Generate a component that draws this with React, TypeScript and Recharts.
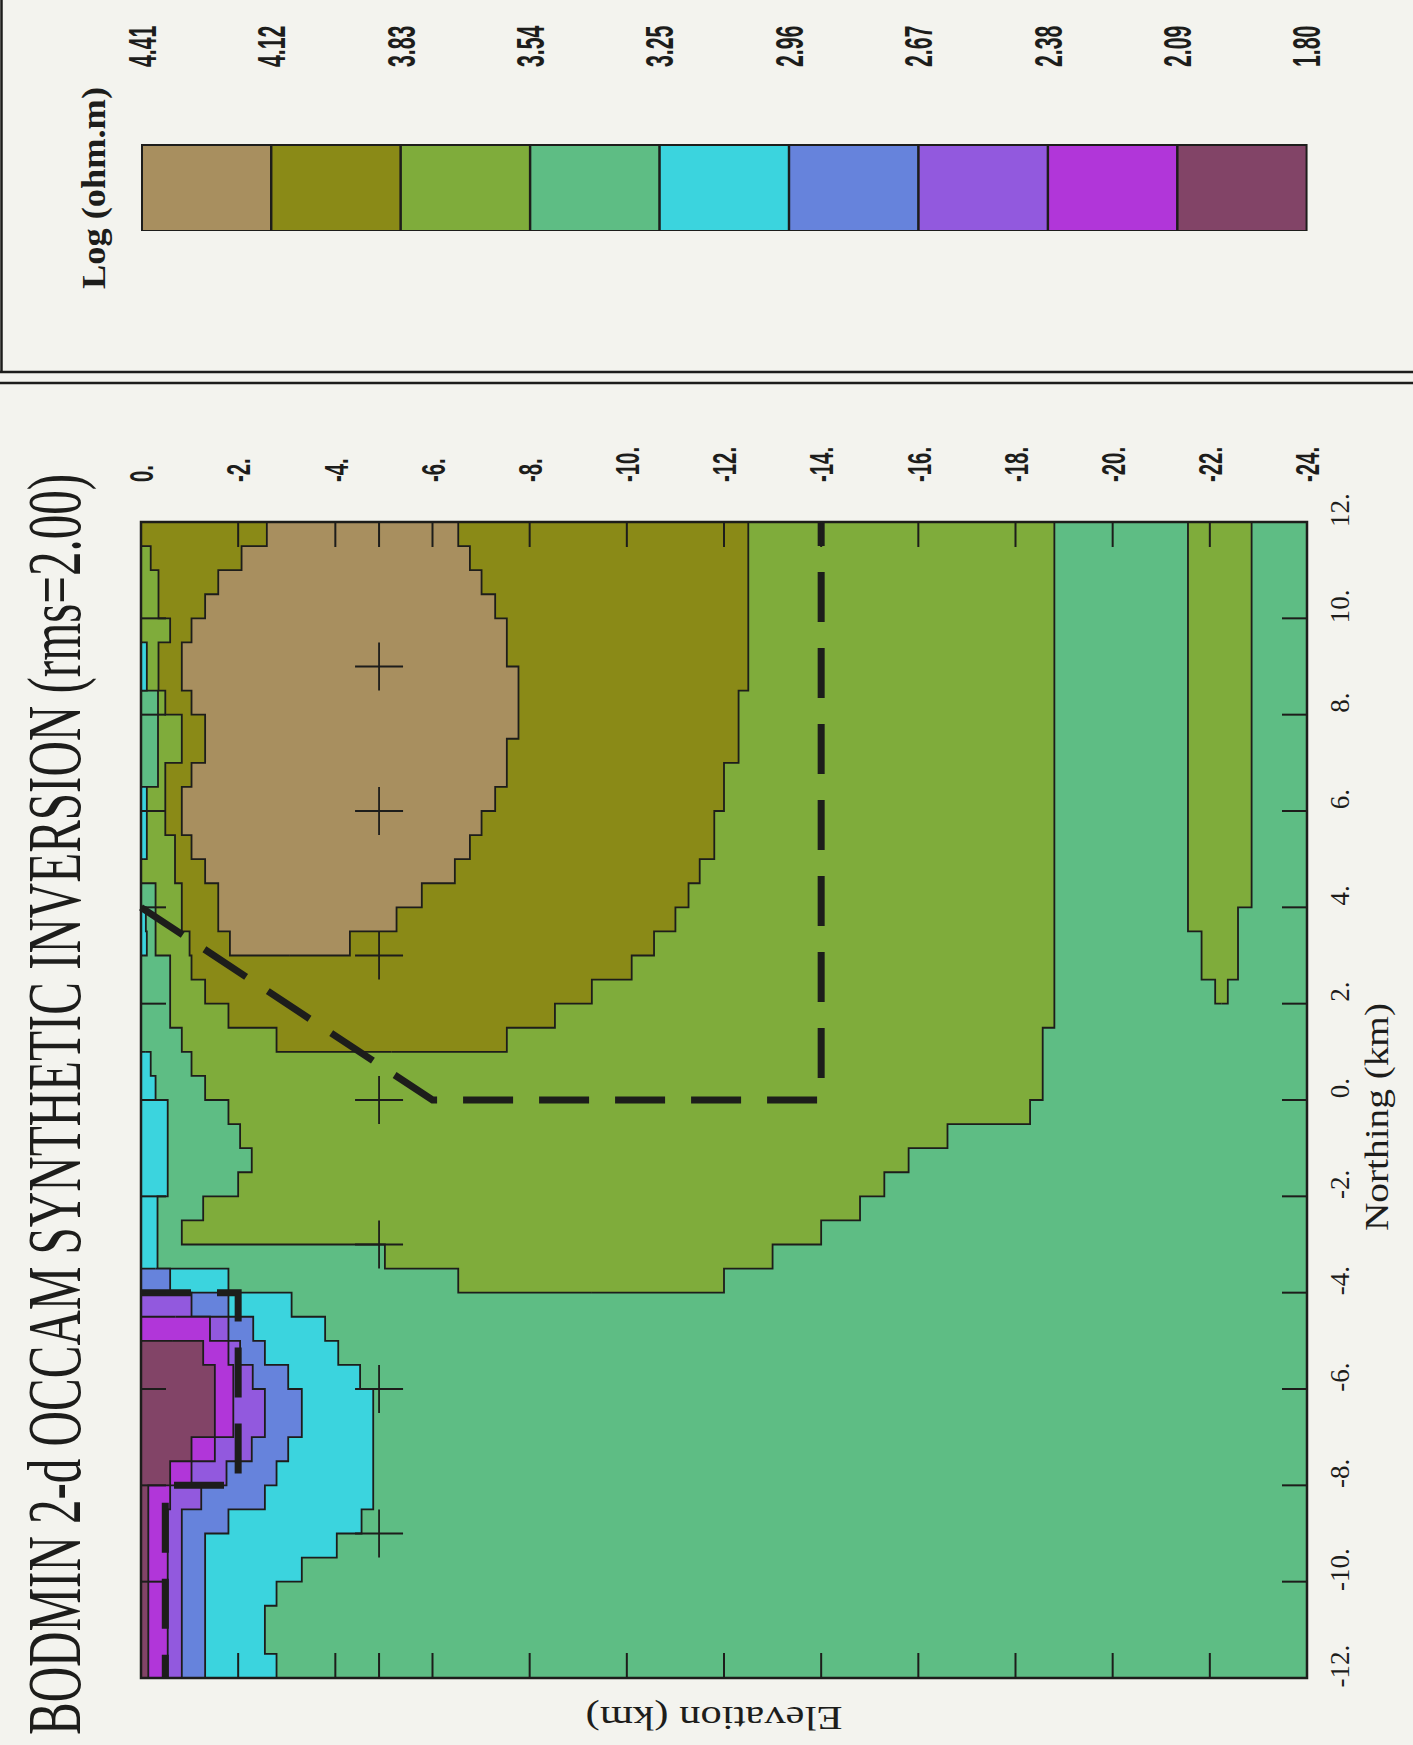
import React from "react";
import {
  ComposedChart,
  Area,
  Line,
  Scatter,
  XAxis,
  YAxis,
  BarChart,
  Bar,
  Cell,
  LabelList,
} from "recharts";

const INK = "#1d1d1b";
const PAPER = "#f3f3ee";

// colour scale, log10 resistivity (ohm.m), top of the bar first
const scaleEdges = [4.41, 4.12, 3.83, 3.54, 3.25, 2.96, 2.67, 2.38, 2.09, 1.8];
const scaleColors = ["#a88f5f", "#8a8a17", "#7fac3b", "#5ebd84", "#3bd4de", "#6683dc", "#9259de", "#b136d9", "#824467"];

// the section is read in 0.5 km columns of northing, starting at -12 km
const firstNorthing = -12;
const columnWidth = 0.5;

// region tops and bases in km below surface, one value per column from `...From`
const yellowGreenFrom = 16;
const yellowGreenTop = [6.53, 5.02, 0.84, 1.28, 2.0, 2.28, 2.04, 1.8, 1.32, 1.04, 0.84, 0.6, 0.6, 0.6, 0.3, 0.3, 0.3, 0, 0, 0, 0, 0.35, 0.35, 0.35, 0.35, 0, 0, 0, 0, 0, 0, 0];
const yellowGreenBase = [12.0, 13.0, 14.0, 14.8, 15.3, 15.8, 16.6, 18.3, 18.56, 18.56, 18.56, 18.8, 18.8, 18.8, 18.8, 18.8, 18.8, 18.8, 18.8, 18.8, 18.8, 18.8, 18.8, 18.8, 18.8, 18.8, 18.8, 18.8, 18.8, 18.8, 18.8, 18.8];

const deepBandFrom = 28;
const deepBandTop = [22.11, 21.83, 21.83, 21.55, 21.55, 21.55, 21.55, 21.55, 21.55, 21.55, 21.55, 21.55, 21.55, 21.55, 21.55, 21.55, 21.55, 21.55, 21.55, 21.55];
const deepBandBase = [22.37, 22.58, 22.58, 22.58, 22.86, 22.86, 22.86, 22.86, 22.86, 22.86, 22.86, 22.86, 22.86, 22.86, 22.86, 22.86, 22.86, 22.86, 22.86, 22.86];

const oliveFrom = 26;
const oliveTop = [2.79, 1.8, 1.32, 1.04, 1.0, 0.84, 0.84, 0.7, 0.7, 0.5, 0.5, 0.5, 0.84, 0.84, 0.5, 0.36, 0.36, 0.6, 0.36, 0.36, 0.2, 0];
const oliveBase = [7.53, 8.52, 9.28, 10.1, 10.56, 11.0, 11.27, 11.5, 11.8, 11.8, 12.0, 12.0, 12.3, 12.3, 12.3, 12.5, 12.5, 12.5, 12.5, 12.5, 12.5, 12.5];

const resistorFrom = 30;
const resistorTop = [1.83, 1.59, 1.59, 1.32, 1.04, 0.84, 0.84, 1.04, 1.32, 1.32, 1.04, 0.84, 0.84, 1.04, 1.32, 1.59, 2.07, 2.59];
const resistorBase = [4.3, 5.26, 5.78, 6.46, 6.77, 7.01, 7.29, 7.53, 7.53, 7.77, 7.77, 7.77, 7.53, 7.53, 7.29, 7.01, 6.77, 6.53];

// thin near-surface patches and the conductive shells all start at the surface
const cyanPatchAFrom = 34;
const cyanPatchABase = [0.12, 0.12, 0.12];
const cyanPatchBFrom = 41;
const cyanPatchBBase = [0.12, 0.12];
const cyanPatchCFrom = 30;
const cyanPatchCBase = [0.12, 0.1];

const cyanBase = [2.79, 2.55, 2.55, 2.79, 3.31, 4.03, 4.54, 4.78, 4.78, 4.78, 4.78, 4.78, 4.51, 4.06, 3.79, 3.1, 1.8, 0.34, 0.34, 0.34, 0.55, 0.55, 0.55, 0.55, 0.3, 0.2];
const blueBase = [1.32, 1.32, 1.32, 1.32, 1.32, 1.32, 1.8, 2.55, 2.79, 3.03, 3.31, 3.31, 3.03, 2.55, 2.31, 1.8, 0.6];
const violetBase = [0.84, 0.84, 0.84, 0.84, 0.84, 0.84, 0.84, 1.24, 1.76, 2.28, 2.55, 2.55, 2.3, 2.04, 1.8, 1.04];
const magentaBase = [0.55, 0.55, 0.55, 0.55, 0.55, 0.55, 0.55, 0.6, 1.04, 1.52, 1.9, 1.9, 1.9, 1.8, 1.42];
const plumBase = [0.15, 0.15, 0.15, 0.15, 0.15, 0.15, 0.15, 0.15, 0.6, 1.04, 1.52, 1.52, 1.52, 1.28];

// axes, stations and the outlines of the true model
const northingTicks = [-12, -10, -8, -6, -4, -2, 0, 2, 4, 6, 8, 10, 12];
const elevationTicks = [0, 2, 4, 6, 8, 10, 12, 14, 16, 18, 20, 22, 24];
const innerNorthingTicks = [-10, -8, -6, -4, -2, 0, 2, 4, 6, 8, 10];
const innerElevationTicks = [2, 4, 4.9, 6, 8, 10, 12, 14, 16, 18, 20, 22];
const stationNorthings = [9, 6, 3, 0, -3, -6, -9];
const stationDepth = 4.9;
const resistorOutline = [
  { n: 4, d: 0 },
  { n: 0, d: 6 },
  { n: 0, d: 14 },
  { n: 12, d: 14 },
];
const conductorOutline = [
  { n: -4, d: 0 },
  { n: -4, d: 2 },
  { n: -8, d: 2 },
  { n: -8, d: 0.5 },
  { n: -12, d: 0.5 },
];

type Pt = { n: number; v: number[] };

const columnEdge = (i: number) => firstNorthing + i * columnWidth;

// one polygon per region; the collapsed end points close the outline
function slab(from: number, top: number[], base: number[]): Pt[] {
  const last = top.length - 1;
  const m0 = (top[0] + base[0]) / 2;
  const m1 = (top[last] + base[last]) / 2;
  return [
    { n: columnEdge(from), v: [m0, m0] },
    ...top.map((t, i) => ({ n: columnEdge(from + i), v: [t, base[i]] })),
    { n: columnEdge(from + top.length), v: [m1, m1] },
  ];
}

const fromSurface = (from: number, base: number[]) => slab(from, base.map(() => 0), base);

const sectionBox: Pt[] = [
  { n: -12, v: [12, 12] },
  { n: -12, v: [0, 24] },
  { n: 12, v: [12, 12] },
];

const regions: { key: string; color: string; points: Pt[] }[] = [
  { key: "bg", color: scaleColors[3], points: sectionBox },
  { key: "yg", color: scaleColors[2], points: slab(yellowGreenFrom, yellowGreenTop, yellowGreenBase) },
  { key: "band", color: scaleColors[2], points: slab(deepBandFrom, deepBandTop, deepBandBase) },
  { key: "olive", color: scaleColors[1], points: slab(oliveFrom, oliveTop, oliveBase) },
  { key: "res", color: scaleColors[0], points: slab(resistorFrom, resistorTop, resistorBase) },
  { key: "cpa", color: scaleColors[4], points: fromSurface(cyanPatchAFrom, cyanPatchABase) },
  { key: "cpb", color: scaleColors[4], points: fromSurface(cyanPatchBFrom, cyanPatchBBase) },
  { key: "cpc", color: scaleColors[4], points: fromSurface(cyanPatchCFrom, cyanPatchCBase) },
  { key: "cyan", color: scaleColors[4], points: fromSurface(0, cyanBase) },
  { key: "blue", color: scaleColors[5], points: fromSurface(0, blueBase) },
  { key: "violet", color: scaleColors[6], points: fromSurface(0, violetBase) },
  { key: "magenta", color: scaleColors[7], points: fromSurface(0, magentaBase) },
  { key: "plum", color: scaleColors[8], points: fromSurface(0, plumBase) },
];

const tickMarks = [
  ...innerElevationTicks.map((d) => ({ n: -12, d, dir: "r" })),
  ...innerElevationTicks.map((d) => ({ n: 12, d, dir: "l" })),
  ...innerNorthingTicks.map((n) => ({ n, d: 0, dir: "d" })),
  ...innerNorthingTicks.map((n) => ({ n, d: 24, dir: "u" })),
];
const northingLabels = northingTicks.map((n) => ({ n, d: 24, text: n === 0 ? "0." : `${n}.` }));
const elevationLabels = elevationTicks.map((d) => ({ n: 12, d, text: d === 0 ? "0." : `-${d}.` }));
const stations = stationNorthings.map((n) => ({ n, d: stationDepth }));

const scaleBands = scaleColors.map((color, i) => ({
  range: `${scaleEdges[i]}-${scaleEdges[i + 1]}`,
  hi: scaleEdges[i],
  w: 1,
  color,
}));

const NorthingLabel = (props: any) => {
  const { cx, cy, payload } = props;
  return (
    <text x={cx + 12} y={cy + 42} textAnchor="middle" fontFamily="'Liberation Serif', serif" fontSize={27} fill={INK}>
      {payload.text}
    </text>
  );
};

const ElevationLabel = (props: any) => {
  const { cx, cy, payload } = props;
  return (
    <text
      transform={`translate(${cx + 40},${cy}) scale(0.6,1)`}
      dy="0.36em"
      fontFamily="'Liberation Sans', sans-serif"
      fontWeight="bold"
      fontSize={34}
      fill={INK}
    >
      {payload.text}
    </text>
  );
};

const TickMark = (props: any) => {
  const { cx, cy, payload } = props;
  const len = 25;
  const dir = payload.dir;
  const dx = dir === "r" ? len : dir === "l" ? -len : 0;
  const dy = dir === "d" ? len : dir === "u" ? -len : 0;
  return <line x1={cx} y1={cy} x2={cx + dx} y2={cy + dy} stroke={INK} strokeWidth={2} />;
};

const StationCross = (props: any) => {
  const { cx, cy } = props;
  return (
    <g stroke={INK} strokeWidth={1.8}>
      <line x1={cx - 24} y1={cy} x2={cx + 24} y2={cy} />
      <line x1={cx} y1={cy - 24} x2={cx} y2={cy + 24} />
    </g>
  );
};

const ScaleLabel = (props: any) => {
  const vb = props.viewBox ?? props;
  const { x, y, width, height } = vb;
  const value = Number(props.value);
  const lx = x + width + 78;
  const label = (val: number, yy: number) => (
    <text
      key={yy}
      transform={`translate(${lx},${yy}) scale(0.56,1)`}
      dy="0.36em"
      fontFamily="'Liberation Sans', sans-serif"
      fontWeight="bold"
      fontSize={38}
      fill={INK}
    >
      {val.toFixed(2)}
    </text>
  );
  const lowest = scaleEdges[scaleEdges.length - 1];
  const lastTop = scaleEdges[scaleEdges.length - 2];
  return (
    <g>
      {label(value, y)}
      {value === lastTop ? label(lowest, y + height) : null}
    </g>
  );
};

export default function App() {
  return (
    <div style={{ position: "absolute", left: 0, top: 0, width: 1413, height: 1745, background: PAPER, overflow: "hidden" }}>
      <div
        style={{
          position: "absolute",
          left: 0,
          top: 0,
          width: 1745,
          height: 1413,
          transformOrigin: "0 0",
          transform: "translateY(1745px) rotate(-90deg)",
        }}
      >
        <div style={{ position: "absolute", left: 0, top: 0 }}>
          <ComposedChart width={1745} height={1413} margin={{ top: 141, right: 522, bottom: 106, left: 67 }}>
            <XAxis dataKey="n" type="number" domain={[-12, 12]} ticks={northingTicks} hide />
            <YAxis dataKey="d" type="number" domain={[0, 24]} reversed ticks={elevationTicks} hide />
            {regions.map((r) => (
              <Area
                key={r.key}
                data={r.points}
                dataKey="v"
                type="stepAfter"
                fill={r.color}
                fillOpacity={1}
                stroke={INK}
                strokeWidth={1.8}
                dot={false}
                activeDot={false}
                isAnimationActive={false}
              />
            ))}
            <Area
              data={sectionBox}
              dataKey="v"
              type="stepAfter"
              fill="none"
              stroke={INK}
              strokeWidth={2.5}
              dot={false}
              activeDot={false}
              isAnimationActive={false}
            />
            <Line
              data={resistorOutline}
              dataKey="d"
              type="linear"
              stroke={INK}
              strokeWidth={7}
              strokeDasharray="50 26"
              dot={false}
              activeDot={false}
              isAnimationActive={false}
            />
            <Line
              data={conductorOutline}
              dataKey="d"
              type="linear"
              stroke={INK}
              strokeWidth={7}
              strokeDasharray="50 26"
              dot={false}
              activeDot={false}
              isAnimationActive={false}
            />
            <Scatter data={stations} shape={(p: any) => <StationCross {...p} />} isAnimationActive={false} />
            <Scatter data={tickMarks} shape={(p: any) => <TickMark {...p} />} isAnimationActive={false} />
            <Scatter data={northingLabels} shape={(p: any) => <NorthingLabel {...p} />} isAnimationActive={false} />
            <Scatter data={elevationLabels} shape={(p: any) => <ElevationLabel {...p} />} isAnimationActive={false} />
          </ComposedChart>
        </div>

        <div style={{ position: "absolute", left: 1514, top: 102 }}>
          <BarChart
            width={86 + 230}
            height={1165 + 80}
            layout="vertical"
            data={scaleBands}
            margin={{ top: 40, right: 230, bottom: 40, left: 0 }}
            barCategoryGap={0}
          >
            <XAxis type="number" domain={[0, 1]} hide />
            <YAxis type="category" dataKey="range" hide />
            <Bar dataKey="w" stroke={INK} strokeWidth={2} isAnimationActive={false}>
              {scaleBands.map((b) => (
                <Cell key={b.range} fill={b.color} />
              ))}
              <LabelList dataKey="hi" content={(p: any) => <ScaleLabel {...p} />} />
            </Bar>
          </BarChart>
        </div>

        <svg width={1745} height={1413} style={{ position: "absolute", left: 0, top: 0, pointerEvents: "none" }}>
          <text transform="translate(10,80) scale(0.645,1)" fontSize={76} fontFamily="'Liberation Serif', serif" fill={INK}>
            BODMIN 2-d OCCAM SYNTHETIC INVERSION (rms=2.00)
          </text>
          <text
            x={1557}
            y={105}
            textAnchor="middle"
            fontSize={33}
            fontWeight="bold"
            textLength={202}
            lengthAdjust="spacingAndGlyphs"
            fontFamily="'Liberation Serif', serif"
            fill={INK}
          >
            Log (ohm.m)
          </text>
          <text
            x={38}
            y={714}
            transform="rotate(-90 38 714)"
            textAnchor="middle"
            fontSize={34}
            textLength={257}
            lengthAdjust="spacingAndGlyphs"
            fontFamily="'Liberation Serif', serif"
            fill={INK}
          >
            Elevation (km)
          </text>
          <text
            x={628}
            y={1388}
            textAnchor="middle"
            fontSize={34}
            textLength={228}
            lengthAdjust="spacingAndGlyphs"
            fontFamily="'Liberation Serif', serif"
            fill={INK}
          >
            Northing (km)
          </text>
          <line x1={1362} y1={0} x2={1362} y2={1413} stroke={INK} strokeWidth={2.5} />
          <line x1={1373} y1={0} x2={1373} y2={1413} stroke={INK} strokeWidth={2.5} />
          <line x1={1373} y1={1.5} x2={1745} y2={1.5} stroke={INK} strokeWidth={2.5} />
        </svg>
      </div>
    </div>
  );
}
